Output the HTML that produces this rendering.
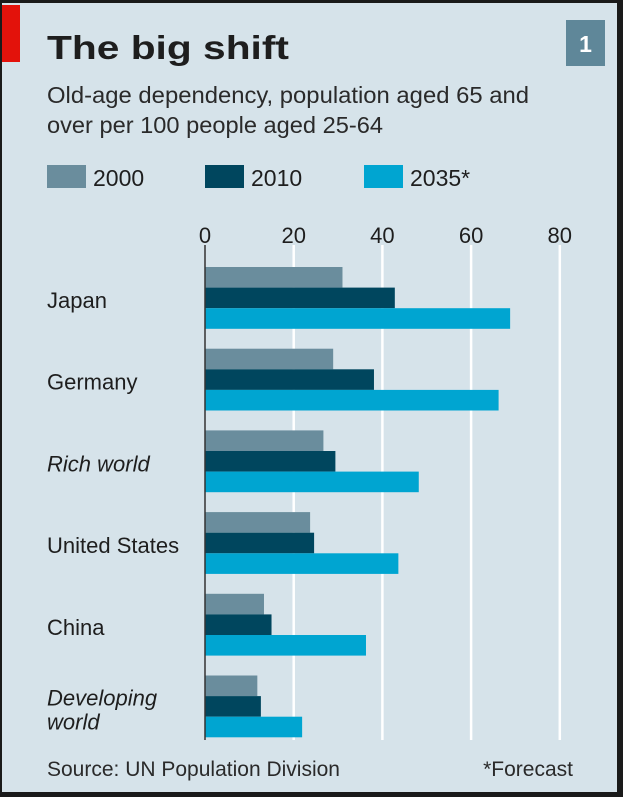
<!DOCTYPE html>
<html><head><meta charset="utf-8"><style>
html,body{margin:0;padding:0;background:#1a1a1a;}
#wrap{position:relative;width:623px;height:797px;overflow:hidden;background:#1a1a1a;}
svg{position:absolute;left:0;top:0;}
text{font-family:"Liberation Sans Narrow","Liberation Sans",sans-serif;fill:#1e1e1e;}
</style></head><body>
<div id="wrap">
<svg id="chart" width="623" height="797" viewBox="0 0 623 797">
  <rect x="2" y="3" width="615" height="789" fill="#d6e3ea"/>
  <rect x="2" y="5" width="18" height="57" fill="#e3120b"/>
  <text x="47" y="59" font-size="33" font-weight="bold" textLength="242" lengthAdjust="spacingAndGlyphs">The big shift</text>
  <rect x="566" y="20" width="39" height="46" fill="#5f8799"/>
  <text x="585.5" y="52" font-size="23" font-weight="bold" text-anchor="middle" style="fill:#fff">1</text>
  <text x="47" y="103" font-size="23" textLength="482" lengthAdjust="spacingAndGlyphs" style="fill:#2a2a2a">Old-age dependency, population aged 65 and</text>
  <text x="47" y="133" font-size="23" textLength="336" lengthAdjust="spacingAndGlyphs" style="fill:#2a2a2a">over per 100 people aged 25-64</text>
  <g id="legend"></g>
  <g id="grid"></g>
  <g id="bars"></g>
  <line x1="205" y1="245" x2="205" y2="740" stroke="#333" stroke-width="1.5"/>
  <g id="labels"></g>
  <text x="47" y="776" font-size="21" style="fill:#2a2a2a">Source: UN Population Division</text>
  <text x="573" y="776" font-size="21" text-anchor="end" style="fill:#2a2a2a">*Forecast</text>
</svg>
</div>
<script>
const categories = ["Japan","Germany","Rich world","United States","China","Developing world"];
const values2000 = [31, 28.9, 26.7, 23.7, 13.3, 11.8];
const values2010 = [42.8, 38.1, 29.4, 24.6, 15, 12.6];
const values2035 = [68.8, 66.2, 48.2, 43.6, 36.3, 21.9];
const tickValues = [0, 20, 40, 60, 80];
const seriesNames = ["2000","2010","2035*"];

const NS = "http://www.w3.org/2000/svg";
const colors = ["#6a8d9d","#00465e","#00a5d1"];
const x0 = 205, pxPerUnit = 4.435;
const xScale = v => x0 + v * pxPerUnit;
const groupTop = 267, groupStep = 81.7, barH = 20.6;
const italic = [false,false,true,false,false,true];
function mk(tag, attrs){const e=document.createElementNS(NS,tag);for(const k in attrs)e.setAttribute(k,attrs[k]);return e;}

const grid = document.getElementById('grid');
tickValues.forEach((t,i)=>{
  if(t>0){
    const l = mk('line',{x1:xScale(t),x2:xScale(t),y1:245,y2:740,stroke:'#ffffff','stroke-width':2.5});
    
    
    grid.appendChild(l);
  }
  const tx = mk('text',{x:xScale(t),y:243,'font-size':22,'text-anchor':'middle'});
  tx.textContent = t;
  
  
  grid.appendChild(tx);
});

const legend = document.getElementById('legend');
const legX = [47, 205, 364];
seriesNames.forEach((s,i)=>{
  const r = mk('rect',{x:legX[i],y:165,width:39,height:23,fill:colors[i]});
  
  
  legend.appendChild(r);
  const t = mk('text',{x:legX[i]+46,y:186,'font-size':23});
  t.textContent = s;
  
  
  legend.appendChild(t);
});

const bars = document.getElementById('bars');
const labels = document.getElementById('labels');
const series = [values2000, values2010, values2035];
categories.forEach((c,ci)=>{
  const top = groupTop + ci*groupStep;
  series.forEach((vals,si)=>{
    const r = mk('rect',{x:x0,y:top+si*barH,width:xScale(vals[ci])-x0,height:barH,fill:colors[si]});
    
    
    bars.appendChild(r);
  });
  const lbl = c.toLowerCase().replace(/ /g,'-');
  if(c==="Developing world"){
    ['Developing','world'].forEach((w,k)=>{
      const t = mk('text',{x:47,y:top+30+k*24,'font-size':22,'font-style':'italic'});
      t.textContent = w;
      
      
      labels.appendChild(t);
    });
  } else {
    const t = mk('text',{x:47,y:top+41,'font-size':22});
    if(italic[ci]) t.setAttribute('font-style','italic');
    t.textContent = c;
    
    
    labels.appendChild(t);
  }
});
</script>
</body></html>
